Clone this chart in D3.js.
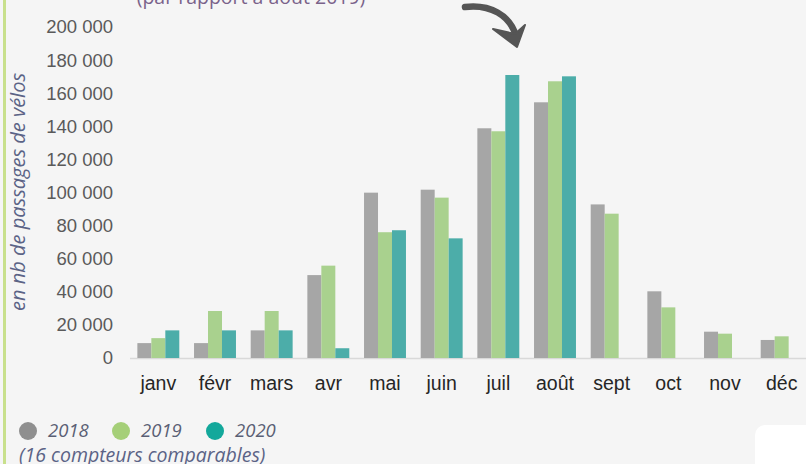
<html>
<script src='https://cdn.jsdelivr.net/npm/d3@7'></script>
<body style="margin:0; background-color:#f5f5f5;">
<svg id="chart" width="806" height="464"></svg>
<script>

// data
const months = ["janv", "févr", "mars", "avr", "mai", "juin", "juil", "août", "sept", "oct", "nov", "déc"];
const years = ["2018", "2019", "2020"];
const v2018 = [9000, 9000, 16700, 50100, 99900, 101700, 138800, 154500, 92800, 40300, 15900, 10900];
const v2019 = [12000, 28400, 28400, 55800, 76000, 96900, 137000, 167200, 87200, 30600, 14700, 13100];
const v2020 = [16700, 16700, 16700, 5900, 77200, 72300, 171000, 170200, null, null, null, null];
const yTicks = [0, 20000, 40000, 60000, 80000, 100000, 120000, 140000, 160000, 180000, 200000];

const barColors = ["#a6a6a6", "#a9d18e", "#4cada9"];
const dotColors = ["#8f8f8f", "#a5cf78", "#13a89b"];

const svg = d3.select("#chart");
const width = 806, height = 464;

svg.append("rect").attr("width", width).attr("height", height).attr("fill", "#f5f5f5");

// green rule on the left
svg.append("line")
    .attr("x1", 4.5).attr("x2", 4.5).attr("y1", 0).attr("y2", height)
    .attr("stroke", "#c8e08c").attr("stroke-width", 3);

// white rounded box bottom right
svg.append("rect")
    .attr("x", 755).attr("y", 425).attr("width", 80).attr("height", 60).attr("rx", 10)
    .attr("fill", "#ffffff");

const x = d3.scaleBand()
    .domain(months)
    .range([130, 810])
    .paddingInner(0.26)
    .paddingOuter(0.13);

const x1 = d3.scaleBand()
    .domain(years)
    .range([0, x.bandwidth()]);

const y = d3.scaleLinear()
    .domain([0, 200000])
    .range([358, 27]);

const fmt = d3.formatLocale({ decimal: ",", thousands: "\u00a0", grouping: [3], currency: ["", " €"] }).format(",d");

// y labels
svg.selectAll(".ytick")
    .data(yTicks)
    .enter()
    .append("text")
    .attr("class", "ytick")
    .attr("x", 113)
    .attr("y", d => y(d))
    .attr("dy", "0.35em")
    .attr("text-anchor", "end")
    .attr("font-family", "Liberation Sans, Arial, sans-serif")
    .attr("font-size", 18.5)
    .attr("fill", "#5a5a5a")
    .text(d => fmt(d));

// baseline
svg.append("line")
    .attr("x1", 130).attr("x2", 806).attr("y1", y(0) + 0.5).attr("y2", y(0) + 0.5)
    .attr("stroke", "#d9d9d9").attr("stroke-width", 1.5);

const rows = months.map((m, i) => ({ month: m, vals: [v2018[i], v2019[i], v2020[i]] }));

svg.selectAll(".group")
    .data(rows)
    .enter()
    .append("g")
    .attr("class", "group")
    .attr("transform", d => `translate(${x(d.month)}, 0)`)
    .selectAll(".bar")
    .data(d => d.vals.map((v, i) => ({ year: years[i], v: v, i: i })).filter(e => e.v !== null))
    .enter()
    .append("rect")
    .attr("class", "bar")
    .attr("x", d => x1(d.year))
    .attr("y", d => y(d.v))
    .attr("width", x1.bandwidth())
    .attr("height", d => y(0) - y(d.v))
    .attr("fill", d => barColors[d.i]);

// month labels
svg.selectAll(".xtick")
    .data(months)
    .enter()
    .append("text")
    .attr("class", "xtick")
    .attr("x", d => x(d) + x.bandwidth() / 2)
    .attr("y", 390)
    .attr("text-anchor", "middle")
    .attr("font-family", "Liberation Sans, Arial, sans-serif")
    .attr("font-size", 19.5)
    .attr("fill", "#262626")
    .text(d => d);

// y axis title
svg.append("text")
    .attr("transform", "translate(25, 192) rotate(-90)")
    .attr("text-anchor", "middle")
    .attr("font-family", "Open Sans, sans-serif")
    .attr("font-style", "italic")
    .attr("font-size", 20)
    .attr("fill", "#5b6386")
    .text("en nb de passages de vélos");

// subtitle cut at the top
svg.append("text")
    .attr("x", 251).attr("y", 4)
    .attr("text-anchor", "middle")
    .attr("font-family", "Open Sans, sans-serif")
    .attr("font-size", 19.5)
    .attr("fill", "#7a628a")
    .text("(par rapport à août 2019)");

// curved arrow
svg.append("path")
    .attr("d", "M465,7 C490,4 510,15 516,36")
    .attr("fill", "none")
    .attr("stroke", "#555555")
    .attr("stroke-width", 6.5)
    .attr("stroke-linecap", "round");
svg.append("path")
    .attr("d", "M493,29 L517,47 L525,25 L515,34 Z")
    .attr("fill", "#555555")
    .attr("stroke", "#555555")
    .attr("stroke-width", 2)
    .attr("stroke-linejoin", "round");

// legend
const legendX = [28, 121, 215];
const legend = svg.selectAll(".legend")
    .data(years)
    .enter()
    .append("g")
    .attr("class", "legend")
    .attr("transform", (d, i) => `translate(${legendX[i]}, 431)`);

legend.append("circle")
    .attr("r", 9)
    .attr("fill", (d, i) => dotColors[i]);

legend.append("text")
    .attr("x", 20)
    .attr("dy", "0.35em")
    .attr("font-family", "Open Sans, sans-serif")
    .attr("font-style", "italic")
    .attr("font-size", 18.5)
    .attr("fill", "#5a5f74")
    .text(d => d);

svg.append("text")
    .attr("x", 19).attr("y", 462)
    .attr("font-family", "Open Sans, sans-serif")
    .attr("font-style", "italic")
    .attr("font-size", 19.5)
    .attr("fill", "#5b6386")
    .text("(16 compteurs comparables)");

</script>
</body>
</html>
